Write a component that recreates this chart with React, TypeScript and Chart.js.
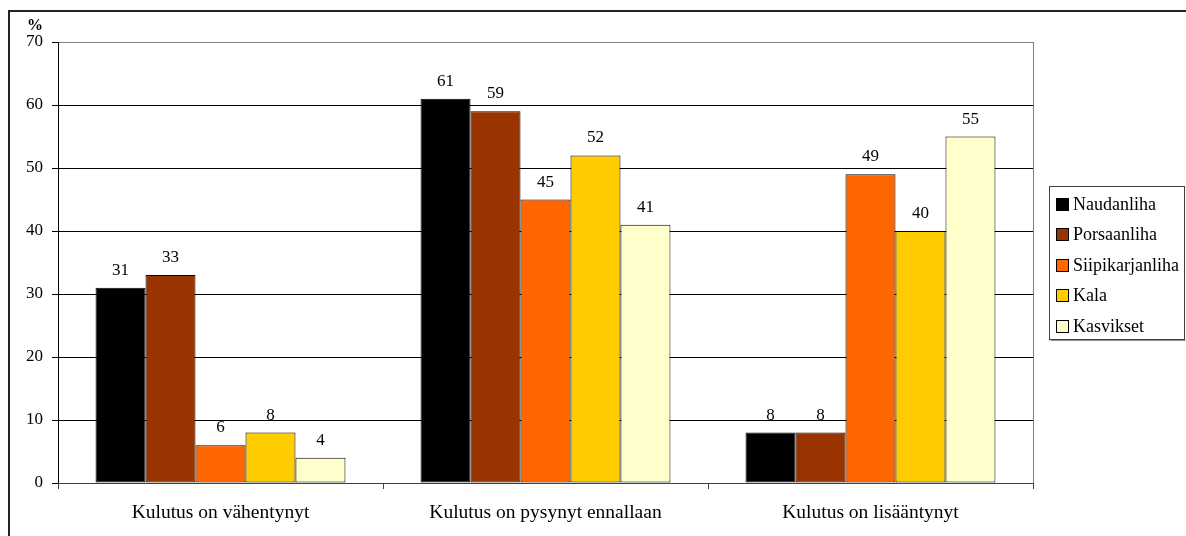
import React, { useEffect, useRef } from "react";
import { Chart, registerables } from "chart.js";

Chart.register(...registerables);

const SERIF = '"Liberation Serif", "Times New Roman", serif';

const categories = [
  "Kulutus on vähentynyt",
  "Kulutus on pysynyt ennallaan",
  "Kulutus on lisääntynyt",
];
const seriesNames = ["Naudanliha", "Porsaanliha", "Siipikarjanliha", "Kala", "Kasvikset"];
const naudanliha = [31, 61, 8];
const porsaanliha = [33, 59, 8];
const siipikarjanliha = [6, 45, 49];
const kala = [8, 52, 40];
const kasvikset = [4, 41, 55];
const seriesColors = ["#000000", "#993300", "#FF6600", "#FFCC00", "#FFFFCC"];
const yMin = 0;
const yMax = 70;
const yStep = 10;
const yUnit = "%";

export default function App() {
  const ref = useRef<HTMLCanvasElement>(null);

  useEffect(() => {
    const canvas = ref.current;
    if (!canvas) return;

    const decorations = {
      id: "decorations",
      beforeDatasetsDraw(chart: any) {
        const { ctx, chartArea } = chart;
        ctx.save();
        ctx.strokeStyle = "#808080";
        ctx.lineWidth = 1;
        ctx.beginPath();
        const rx = Math.round(chartArea.right) + 0.5;
        ctx.moveTo(rx, chartArea.top);
        ctx.lineTo(rx, chartArea.bottom);
        ctx.stroke();
        ctx.restore();
      },
      afterDatasetsDraw(chart: any) {
        const { ctx } = chart;
        ctx.save();
        // value labels
        ctx.font = `17px ${SERIF}`;
        ctx.fillStyle = "#000";
        ctx.textAlign = "center";
        ctx.textBaseline = "alphabetic";
        chart.data.datasets.forEach((ds: any, i: number) => {
          const meta = chart.getDatasetMeta(i);
          meta.data.forEach((bar: any, j: number) => {
            ctx.fillText(String(ds.data[j]), bar.x, bar.y - 13);
          });
        });
        // unit label
        ctx.font = `bold 16px ${SERIF}`;
        ctx.textAlign = "left";
        ctx.fillText(yUnit, 27, 30);
        // outer frame
        ctx.strokeStyle = "#222";
        ctx.lineWidth = 2;
        ctx.beginPath();
        ctx.moveTo(9, 536);
        ctx.lineTo(9, 11);
        ctx.lineTo(1186, 11);
        ctx.stroke();
        // legend
        const lx = 1049.5;
        const ly = 186.5;
        ctx.lineWidth = 1;
        ctx.strokeStyle = "#404040";
        ctx.strokeRect(lx, ly, 135, 153);
        ctx.strokeStyle = "#909090";
        ctx.beginPath();
        ctx.moveTo(lx + 1, ly + 154);
        ctx.lineTo(lx + 136, ly + 154);
        ctx.stroke();
        ctx.font = `18px ${SERIF}`;
        ctx.textAlign = "left";
        chart.data.datasets.forEach((ds: any, i: number) => {
          const cy = 204 + i * 30.4;
          ctx.fillStyle = ds.backgroundColor;
          ctx.fillRect(1056.5, Math.round(cy) - 6 + 0.5, 12, 12);
          ctx.strokeStyle = "#000";
          ctx.strokeRect(1056.5, Math.round(cy) - 6 + 0.5, 12, 12);
          ctx.fillStyle = "#000";
          ctx.fillText(ds.label, 1073, cy + 6);
        });
        ctx.restore();
      },
    };

    const seriesData = [naudanliha, porsaanliha, siipikarjanliha, kala, kasvikset];

    const chart = new Chart(canvas, {
      type: "bar",
      data: {
        labels: categories,
        datasets: seriesNames.map((name, i) => ({
          label: name,
          data: seriesData[i],
          backgroundColor: seriesColors[i],
          borderColor: "#000000",
          borderWidth: 1,
          borderSkipped: false,
          categoryPercentage: 0.769,
          barPercentage: 1,
        })),
      },
      options: {
        responsive: false,
        animation: false,
        events: [],
        layout: { padding: { top: 42, right: 153, bottom: 0, left: 0 } },
        plugins: {
          legend: { display: false },
          tooltip: { enabled: false },
          title: { display: false },
        },
        scales: {
          x: {
            afterFit: (scale: any) => {
              scale.height = 53;
            },
            grid: {
              display: true,
              drawOnChartArea: false,
              drawTicks: true,
              tickLength: 6,
              color: "#404040",
              offset: true,
            },
            border: { display: true, color: "#404040", width: 1 },
            ticks: {
              color: "#000",
              padding: 12,
              maxRotation: 0,
              autoSkip: false,
              font: { family: SERIF, size: 19.5 },
            },
          },
          y: {
            min: yMin,
            max: yMax,
            afterFit: (scale: any) => {
              scale.width = 58;
            },
            grid: {
              drawOnChartArea: true,
              drawTicks: true,
              tickLength: 6,
              color: (c: any) => (c.tick && c.tick.value === yMax ? "#808080" : "#000000"),
              tickColor: "#000000",
            },
            border: { display: true, color: "#000000", width: 1 },
            ticks: {
              stepSize: yStep,
              color: "#000",
              padding: 9,
              font: { family: SERIF, size: 17 },
            },
          },
        },
      },
      plugins: [decorations],
    });

    return () => chart.destroy();
  }, []);

  return (
    <canvas
      ref={ref}
      width={1186}
      height={536}
      style={{ position: "fixed", left: 0, top: 0, width: 1186, height: 536 }}
    />
  );
}
